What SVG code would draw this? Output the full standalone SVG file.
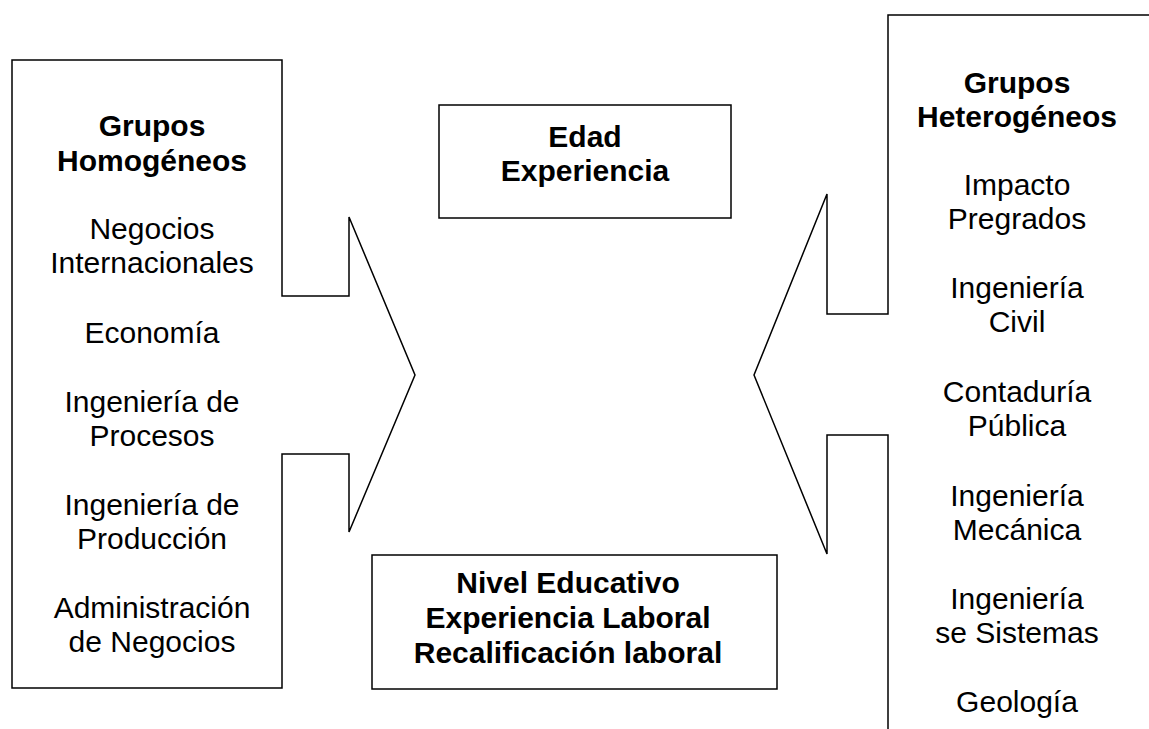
<svg xmlns="http://www.w3.org/2000/svg" width="1149" height="729" viewBox="0 0 1149 729">
<style>
.shape{fill:none;stroke:#000;stroke-width:1.5;stroke-linejoin:miter}
.t{font-family:"Liberation Sans",Arial,sans-serif;font-size:30px;fill:#000;text-anchor:middle}
.b{font-weight:bold}
</style>
<rect width="1149" height="729" fill="#fff"/>
<g id="grupos-homogeneos">
<path class="shape" d="M12,60 H282 V296 H349 V217 L415,375 L349,532 V454 H282 V688 H12 Z"/>
<text class="t b" x="152" y="136">Grupos</text>
<text class="t b" x="152" y="171">Homogéneos</text>
<text class="t" x="152" y="239">Negocios</text>
<text class="t" x="152" y="273">Internacionales</text>
<text class="t" x="152" y="343">Economía</text>
<text class="t" x="152" y="412">Ingeniería de</text>
<text class="t" x="152" y="446">Procesos</text>
<text class="t" x="152" y="515">Ingeniería de</text>
<text class="t" x="152" y="549">Producción</text>
<text class="t" x="152" y="618">Administración</text>
<text class="t" x="152" y="652">de Negocios</text>
</g>
<g id="grupos-heterogeneos">
<path class="shape" d="M1150,15 H888 V314 H827 V194 L754,375 L827,554 V435 H888 V730"/>
<text class="t b" x="1017" y="93">Grupos</text>
<text class="t b" x="1017" y="127">Heterogéneos</text>
<text class="t" x="1017" y="195">Impacto</text>
<text class="t" x="1017" y="229">Pregrados</text>
<text class="t" x="1017" y="298">Ingeniería</text>
<text class="t" x="1017" y="332">Civil</text>
<text class="t" x="1017" y="402">Contaduría</text>
<text class="t" x="1017" y="436">Pública</text>
<text class="t" x="1017" y="506">Ingeniería</text>
<text class="t" x="1017" y="540">Mecánica</text>
<text class="t" x="1017" y="609">Ingeniería</text>
<text class="t" x="1017" y="643">se Sistemas</text>
<text class="t" x="1017" y="712">Geología</text>
</g>
<g id="edad-experiencia">
<rect class="shape" x="439" y="105" width="292" height="113"/>
<text class="t b" x="585" y="147">Edad</text>
<text class="t b" x="585" y="181">Experiencia</text>
</g>
<g id="nivel-educativo">
<rect class="shape" x="372" y="555" width="405" height="134"/>
<text class="t b" x="568" y="593">Nivel Educativo</text>
<text class="t b" x="568" y="628">Experiencia Laboral</text>
<text class="t b" x="568" y="663">Recalificación laboral</text>
</g>
<g id="connectors"></g>
</svg>
